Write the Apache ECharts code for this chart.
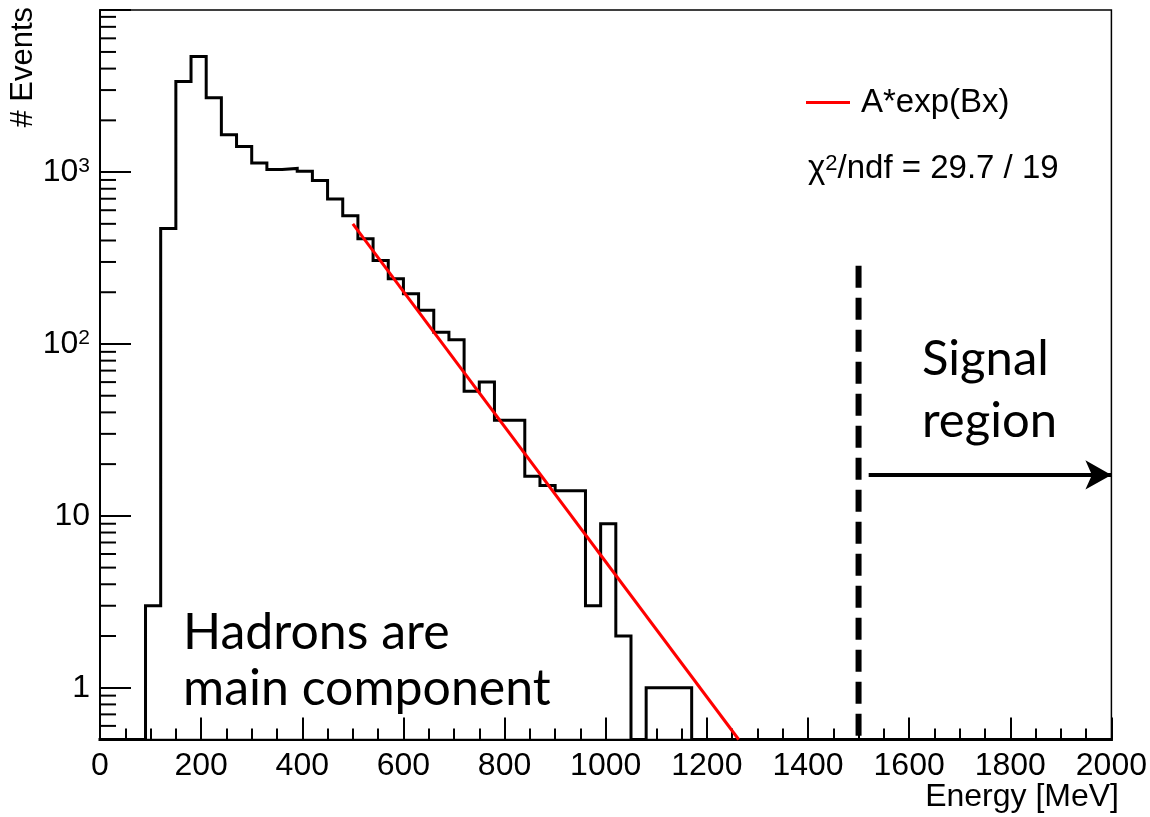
<!DOCTYPE html>
<html>
<head>
<meta charset="utf-8">
<script src="https://cdn.jsdelivr.net/npm/echarts@6/dist/echarts.min.js"></script>
<style>
  html, body { margin: 0; padding: 0; background: #ffffff; }
  #chart { width: 1150px; height: 817px; }
</style>
</head>
<body>
<div id="chart"></div>
<script>
// Energy spectrum, 30 MeV bins starting at 90 MeV
const binStart = 90;
const binWidth = 30;
const counts = [3, 470, 3360, 4700, 2710, 1650, 1410, 1130, 1035, 1050, 1010, 892,
                697, 558, 409, 306, 240, 196, 157, 117, 106, 53, 60, 36, 36, 17,
                15, 14, 14, 3, 9, 2, 0, 1, 1, 1];

// Exponential fit A*exp(Bx): a straight line on the log axis, given by its end points
const fitX = [500, 1263];
const fitY = [500, 0.5];

// Signal region marker: cut position, top of the dashed line, arrow span and height
const signalCut = 1500;
const signalLineTop = 285;
const arrowX = [1520, 2000];
const arrowY = 17.3;

// Axis ranges and labels
const xRange = [0, 2000];
const xStep = 200;
const yRange = [0.5, 8770];
const yTickLabels = { 0: '{m|1}', 1: '{m|10}', 2: '{m|10}{s|2}', 3: '{m|10}{s|3}' };

const AXIS_FONT = '"Liberation Sans", Arial, sans-serif';
const NOTE_FONT = 'Lato, "Open Sans", sans-serif';

// Histogram outline: empty bins sit on the bottom of the log axis
const floorY = yRange[0];
const histPoints = [[xRange[0], floorY], [binStart, floorY]];
counts.forEach((c, i) => {
  const lo = binStart + i * binWidth;
  const v = c > 0 ? c : floorY;
  histPoints.push([lo, v], [lo + binWidth, v]);
});
histPoints.push([binStart + counts.length * binWidth, floorY], [xRange[1], floorY]);

// Minor ticks of the log axis at 2..9 x 10^n
const yMinor = [];
for (let d = -1; d <= 3; d++) {
  for (let m = 2; m <= 9; m++) {
    const v = m * Math.pow(10, d);
    if (v > yRange[0] && v < yRange[1]) yMinor.push(v);
  }
}

const chart = echarts.init(document.getElementById('chart'));

chart.setOption({
  animation: false,
  backgroundColor: '#ffffff',
  grid: {
    left: 100, top: 10, width: 1015, height: 729.5,
    show: true, borderColor: '#000', borderWidth: 1.5, backgroundColor: 'transparent'
  },
  legend: {
    data: ['A*exp(Bx)'],
    left: 801, top: 81,
    icon: 'rect',
    itemWidth: 44, itemHeight: 3,
    textStyle: { fontFamily: AXIS_FONT, fontSize: 33, color: '#000', padding: [0, 0, 0, 6] },
    selectedMode: false
  },
  xAxis: {
    type: 'value',
    min: xRange[0], max: xRange[1], interval: xStep,
    axisLine: { show: true, onZero: false, lineStyle: { color: '#000', width: 2 } },
    axisTick: { show: true, inside: true, length: 22, lineStyle: { color: '#000', width: 2 } },
    minorTick: { show: true, splitNumber: 4, length: 11, lineStyle: { color: '#000', width: 2 } },
    axisLabel: { color: '#000', fontFamily: AXIS_FONT, fontSize: 32, margin: 11, formatter: (v) => String(v) },
    splitLine: { show: false }
  },
  yAxis: {
    type: 'log', logBase: 10,
    min: yRange[0], max: yRange[1],
    axisLine: { show: true, onZero: false, lineStyle: { color: '#000', width: 2 } },
    axisTick: { show: true, inside: true, length: 31, lineStyle: { color: '#000', width: 2 } },
    minorTick: { show: false },
    axisLabel: {
      color: '#000', fontFamily: AXIS_FONT, fontSize: 32, margin: 10,
      formatter: (v) => {
        const e = Math.log10(v);
        const r = Math.round(e);
        if (Math.abs(e - r) > 1e-6 || !(r in yTickLabels)) return '';
        return yTickLabels[r];
      },
      rich: {
        m: { fontFamily: AXIS_FONT, fontSize: 32, color: '#000' },
        s: { fontFamily: AXIS_FONT, fontSize: 21, color: '#000', verticalAlign: 'top' }
      }
    },
    splitLine: { show: false }
  },
  graphic: [
    {
      type: 'text', x: 23, y: 7, rotation: Math.PI / 2,
      style: { text: '# Events', font: '31px ' + AXIS_FONT, fill: '#000', align: 'right', verticalAlign: 'middle' }
    },
    {
      type: 'text', x: 1119, y: 797,
      style: { text: 'Energy [MeV]', font: '32px ' + AXIS_FONT, fill: '#000', align: 'right', verticalAlign: 'middle' }
    },
    {
      type: 'text', x: 808, y: 169,
      style: {
        text: '{n|χ}{s|2}{n|/ndf = 29.7 / 19}',
        align: 'left', verticalAlign: 'middle',
        rich: {
          n: { fontFamily: AXIS_FONT, fontSize: 33, fill: '#000' },
          s: { fontFamily: AXIS_FONT, fontSize: 22, fill: '#000', verticalAlign: 'top' }
        }
      }
    },
    { type: 'text', x: 922, y: 359, style: { text: 'Signal', font: '49px ' + NOTE_FONT, fill: '#000', verticalAlign: 'middle' } },
    { type: 'text', x: 922, y: 421, style: { text: 'region', font: '49px ' + NOTE_FONT, fill: '#000', verticalAlign: 'middle' } },
    { type: 'text', x: 183, y: 633, style: { text: 'Hadrons are', font: '50px ' + NOTE_FONT, fill: '#000', verticalAlign: 'middle' } },
    { type: 'text', x: 183, y: 689, style: { text: 'main component', font: '50px ' + NOTE_FONT, fill: '#000', verticalAlign: 'middle' } }
  ],
  series: [
    {
      name: 'Events',
      type: 'line',
      data: histPoints,
      symbol: 'none',
      clip: false,
      lineStyle: { color: '#000', width: 3, join: 'miter', cap: 'square' },
      z: 3
    },
    {
      name: 'A*exp(Bx)',
      type: 'line',
      data: fitX.map((x, i) => [x, fitY[i]]),
      symbol: 'none',
      lineStyle: { color: '#ff0000', width: 3 },
      itemStyle: { color: '#ff0000' },
      z: 4
    },
    {
      name: 'Signal cut',
      type: 'line',
      data: [[signalCut, signalLineTop], [signalCut, floorY]],
      symbol: 'none',
      clip: false,
      lineStyle: { color: '#000', width: 6, type: [22, 10], cap: 'butt' },
      z: 4,
      markLine: {
        silent: true,
        symbol: ['none', 'arrow'],
        symbolSize: [22, 26],
        label: { show: false },
        lineStyle: { color: '#000', width: 4, type: 'solid' },
        data: [[{ coord: [arrowX[0], arrowY] }, { coord: [arrowX[1], arrowY] }]]
      }
    },
    {
      name: 'yMinorTicks',
      type: 'custom',
      coordinateSystem: 'cartesian2d',
      silent: true,
      clip: false,
      data: yMinor.map(v => [xRange[0], v]),
      renderItem: (params, api) => {
        const p = api.coord([api.value(0), api.value(1)]);
        return {
          type: 'line',
          shape: { x1: p[0], y1: p[1], x2: p[0] + 16, y2: p[1] },
          style: { stroke: '#000', lineWidth: 2 }
        };
      },
      z: 2
    }
  ]
});
</script>
</body>
</html>
